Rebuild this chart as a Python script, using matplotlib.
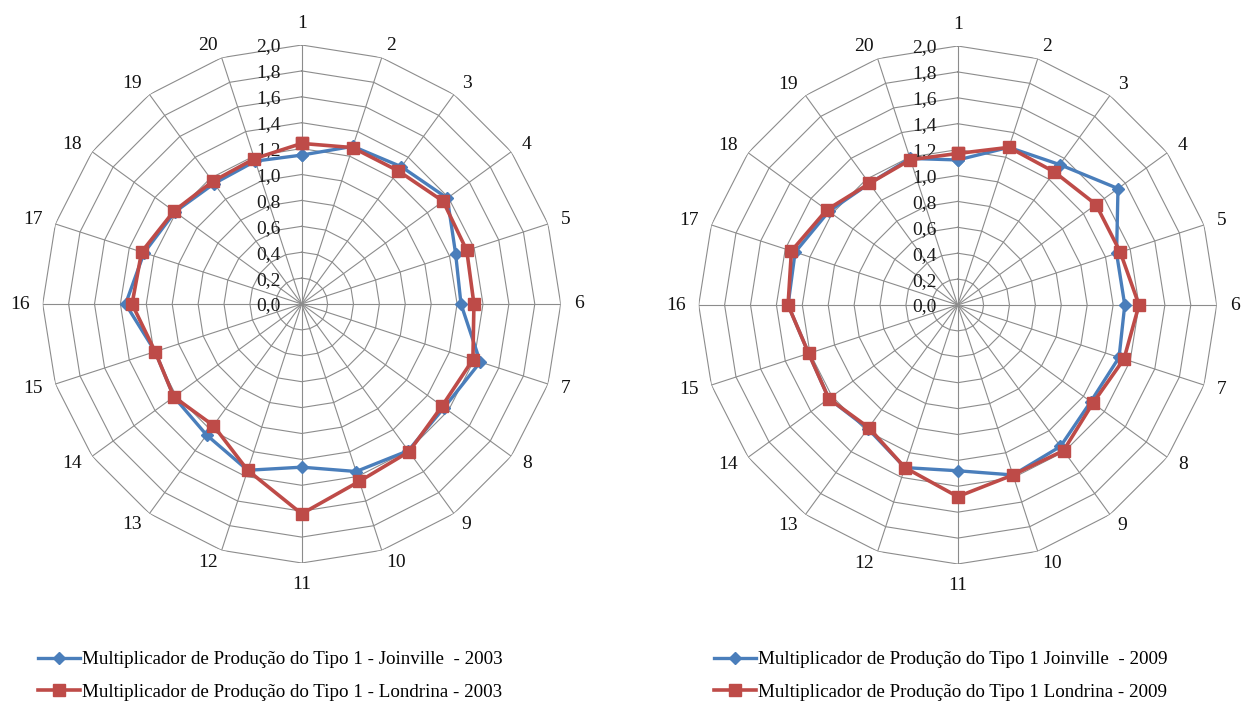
import numpy as np
import matplotlib
matplotlib.use("Agg")
import matplotlib.pyplot as plt
from matplotlib.lines import Line2D

plt.rcParams['font.family'] = ['Liberation Serif', 'DejaVu Serif']

categories = [str(i) for i in range(1, 21)]
r_ticks = [0.0, 0.2, 0.4, 0.6, 0.8, 1.0, 1.2, 1.4, 1.6, 1.8, 2.0]
r_tick_labels = ["0,0", "0,2", "0,4", "0,6", "0,8", "1,0", "1,2", "1,4", "1,6", "1,8", "2,0"]

joinville_2003 = [1.15, 1.28, 1.31, 1.39, 1.25, 1.23, 1.45, 1.36, 1.40, 1.36,
                  1.26, 1.35, 1.25, 1.22, 1.19, 1.36, 1.28, 1.21, 1.15, 1.16]
londrina_2003 = [1.24, 1.27, 1.27, 1.35, 1.34, 1.33, 1.39, 1.34, 1.41, 1.44,
                 1.62, 1.35, 1.16, 1.22, 1.19, 1.31, 1.30, 1.22, 1.17, 1.18]
joinville_2009 = [1.12, 1.28, 1.34, 1.53, 1.29, 1.29, 1.31, 1.27, 1.35, 1.38,
                  1.28, 1.32, 1.18, 1.23, 1.21, 1.31, 1.32, 1.23, 1.16, 1.19]
londrina_2009 = [1.17, 1.28, 1.27, 1.32, 1.32, 1.40, 1.35, 1.29, 1.39, 1.38,
                 1.48, 1.32, 1.17, 1.23, 1.21, 1.31, 1.35, 1.25, 1.16, 1.18]

labels_left = ["Multiplicador de Produção do Tipo 1 - Joinville  - 2003",
               "Multiplicador de Produção do Tipo 1 - Londrina - 2003"]
labels_right = ["Multiplicador de Produção do Tipo 1 Joinville  - 2009",
                "Multiplicador de Produção do Tipo 1 Londrina - 2009"]

BLUE = "#4A7EBB"
RED = "#BE4B48"
GRID = "#8C8C8C"
FS = 14
LFS = 13.7

W, H = 1243, 702
fig = plt.figure(figsize=(W / 100, H / 100), dpi=100)
fig.patch.set_facecolor("white")

R = 259
centers = [(301.7, 304.0), (957.7, 305.0)]

n = len(categories)
angles = np.arange(n) * 2 * np.pi / n
ang_closed = np.append(angles, angles[0])


def radar(ax, blue_vals, red_vals):
    ax.set_theta_zero_location("N")
    ax.set_theta_direction(-1)
    ax.set_ylim(0, r_ticks[-1])
    ax.grid(False)
    ax.spines['polar'].set_visible(False)
    ax.set_xticks([])
    ax.set_yticks([])
    ax.patch.set_alpha(0)
    # polygon rings
    for r in r_ticks[1:]:
        ax.plot(ang_closed, [r] * (n + 1), color=GRID, lw=0.8, zorder=1)
    # spokes
    for a in angles:
        ax.plot([a, a], [0, r_ticks[-1]], color=GRID, lw=0.8, zorder=1)
    # radial tick labels
    for r, lab in zip(r_ticks, r_tick_labels):
        ax.annotate(lab, xy=(0, r), xytext=(-21, -2), textcoords="offset pixels",
                    ha="right", va="center", fontsize=FS, color="#1a1a1a",
                    annotation_clip=False)
    # category labels
    for a, lab in zip(angles, categories):
        s, c = np.sin(a), np.cos(a)
        ha = "center" if abs(s) < 1e-6 else ("left" if s > 0 else "right")
        if abs(s) < 1e-6:
            va = "bottom" if c > 0 else "top"
        else:
            va = "center"
        ax.annotate(lab, xy=(a, r_ticks[-1]), xytext=(13 * s, 13 * c),
                    textcoords="offset pixels", ha=ha, va=va, fontsize=FS,
                    color="#111111", annotation_clip=False)
    bv = np.append(blue_vals, blue_vals[0])
    rv = np.append(red_vals, red_vals[0])
    ax.plot(ang_closed, bv, color=BLUE, lw=2.4, marker="D", markersize=6,
            markerfacecolor=BLUE, markeredgecolor=BLUE, zorder=3, clip_on=False)
    ax.plot(ang_closed, rv, color=RED, lw=2.6, marker="s", markersize=8.5,
            markerfacecolor=RED, markeredgecolor=RED, zorder=4, clip_on=False)


axes = []
for (cx, cy) in centers:
    ax = fig.add_axes([(cx - R) / W, (H - cy - R) / H, 2 * R / W, 2 * R / H],
                      projection="polar")
    axes.append(ax)

radar(axes[0], joinville_2003, londrina_2003)
radar(axes[1], joinville_2009, londrina_2009)


def make_legend(labels, x, y):
    handles = [Line2D([], [], color=BLUE, lw=2.4, marker="D", markersize=6),
               Line2D([], [], color=RED, lw=2.6, marker="s", markersize=8.5)]
    fig.legend(handles, labels, loc="upper left", bbox_to_anchor=(x / W, 1 - y / H),
               frameon=False, fontsize=LFS, handlelength=2.2, handletextpad=0.1,
               labelspacing=0.8, borderpad=0, borderaxespad=0)


make_legend(labels_left, 38, 651)
make_legend(labels_right, 714, 651)

fig.savefig("out.png", dpi=100, facecolor="white")
